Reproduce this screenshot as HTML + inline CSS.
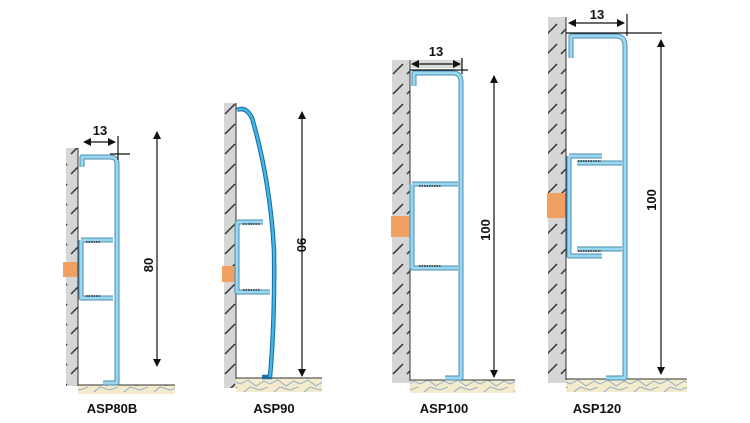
<!DOCTYPE html>
<html><head><style>
body{margin:0;background:#fff}
svg{display:block}
text{font-family:"Liberation Sans",Arial,sans-serif;font-weight:bold;fill:#111}
.o{fill:none;stroke:#4a8db0;stroke-width:5;stroke-linejoin:round}
.i{fill:none;stroke:#9ad8f0;stroke-width:3;stroke-linejoin:round}
.d{stroke:#111;stroke-width:1.2;fill:none}
.t{stroke:#222;stroke-width:1.6;fill:none;stroke-dasharray:1.5 1}
</style></head><body>
<svg width="750" height="423" viewBox="0 0 750 423">
<defs>
<pattern id="h" width="14" height="20" patternUnits="userSpaceOnUse">
<rect width="14" height="20" fill="#d6d6d6"/>
<line x1="1" y1="14" x2="11" y2="4" stroke="#333" stroke-width="1.5"/>
</pattern>
<pattern id="fl" width="30" height="14" patternUnits="userSpaceOnUse">
<rect width="30" height="14" fill="#f3ebcc"/>
<path d="M0 6 L8 2 L16 8 L24 3 L30 6 M4 14 L10 9 L20 12 L28 9" stroke="#8aa6c8" stroke-width="0.9" fill="none"/>
</pattern>
<marker id="a" markerWidth="8" markerHeight="8" refX="7" refY="4" orient="auto-start-reverse" markerUnits="userSpaceOnUse"><path d="M0 0 L8 4 L0 8 Z" fill="#111"/></marker>
</defs>

<!-- ASP80B -->
<rect x="66" y="148" width="12" height="238" fill="url(#h)"/>
<rect x="63" y="262" width="15" height="15" fill="#f0a060"/>
<rect x="78" y="385" width="97" height="9" fill="url(#fl)"/>
<line x1="78" y1="148" x2="78" y2="386" stroke="#333" stroke-width="1"/>
<line x1="78" y1="385" x2="175" y2="385" stroke="#333" stroke-width="1"/>
<path class="o" d="M82 167 V157 H110 Q117 157 117 164 V383 H103"/>
<path class="o" d="M81 240 H113 M81 240 V298 H113"/>
<path class="i" d="M82 167 V157 H110 Q117 157 117 164 V383 H103"/>
<path class="i" d="M81 240 H113 M81 240 V298 H113"/>
<path class="t" d="M86 242 H100 M86 296 H100"/>
<line class="d" x1="84" y1="142" x2="115" y2="142" marker-start="url(#a)" marker-end="url(#a)"/>
<line class="d" x1="118" y1="136" x2="118" y2="160"/>
<line class="d" x1="110" y1="154" x2="130" y2="154"/>
<text x="100" y="135" font-size="13" text-anchor="middle">13</text>
<line class="d" x1="157" y1="132" x2="157" y2="366" marker-start="url(#a)" marker-end="url(#a)"/>
<text transform="translate(153,265) rotate(-90)" font-size="13" text-anchor="middle">80</text>
<text x="112" y="413" font-size="13" text-anchor="middle">ASP80B</text>

<!-- ASP90 -->
<rect x="224" y="103" width="12" height="285" fill="url(#h)"/>
<rect x="222" y="266" width="14" height="16" fill="#f0a060"/>
<rect x="236" y="378" width="86" height="14" fill="url(#fl)"/>
<line x1="236" y1="103" x2="236" y2="379" stroke="#333" stroke-width="1"/>
<line x1="236" y1="378" x2="322" y2="378" stroke="#333" stroke-width="1"/>
<path d="M237 110 Q246 106 252 118 Q270 180 274 250 Q275 320 270 377 L262 377" fill="none" stroke="#1d6fa0" stroke-width="4.5"/>
<path d="M237 110 Q246 106 252 118 Q270 180 274 250 Q275 320 270 377" fill="none" stroke="#3fb8ec" stroke-width="2.4"/>
<path class="o" d="M237 222 H263 M237 222 V292 H270"/>
<path class="i" d="M237 222 H263 M237 222 V292 H270"/>
<path class="t" d="M243 224 H260 M243 290 H260"/>
<line class="d" x1="302" y1="112" x2="302" y2="376" marker-start="url(#a)" marker-end="url(#a)"/>
<text transform="translate(297,245) rotate(90)" font-size="13" text-anchor="middle">90</text>
<text x="274" y="413" font-size="13" text-anchor="middle">ASP90</text>

<!-- ASP100 -->
<rect x="392" y="60" width="18" height="323" fill="url(#h)"/>
<rect x="391" y="216" width="19" height="21" fill="#f0a060"/>
<rect x="410" y="380" width="105" height="13" fill="url(#fl)"/>
<line x1="410" y1="60" x2="410" y2="381" stroke="#333" stroke-width="1"/>
<line x1="410" y1="380" x2="515" y2="380" stroke="#333" stroke-width="1"/>
<path class="o" d="M414 86 V73 H453 Q461 73 461 82 V378 H445"/>
<path class="o" d="M412 184 H458 M412 184 V268 H458"/>
<path class="i" d="M414 86 V73 H453 Q461 73 461 82 V378 H445"/>
<path class="i" d="M412 184 H458 M412 184 V268 H458"/>
<path class="t" d="M419 186 H441 M419 266 H441"/>
<rect x="411" y="60" width="51" height="8" fill="#d9d9d9"/>
<line class="d" x1="412" y1="64" x2="460" y2="64" marker-start="url(#a)" marker-end="url(#a)"/>
<line class="d" x1="462" y1="58" x2="462" y2="74"/>
<line class="d" x1="410" y1="70" x2="468" y2="70"/>
<text x="436" y="56" font-size="13" text-anchor="middle">13</text>
<line class="d" x1="494" y1="76" x2="494" y2="377" marker-start="url(#a)" marker-end="url(#a)"/>
<text transform="translate(490,230) rotate(-90)" font-size="13" text-anchor="middle">100</text>
<text x="444" y="413" font-size="13" text-anchor="middle">ASP100</text>

<!-- ASP120 -->
<rect x="548" y="17" width="18" height="366" fill="url(#h)"/>
<rect x="547" y="193" width="19" height="25" fill="#f0a060"/>
<rect x="566" y="379" width="121" height="13" fill="url(#fl)"/>
<line x1="566" y1="17" x2="566" y2="380" stroke="#333" stroke-width="1"/>
<line x1="566" y1="379" x2="687" y2="379" stroke="#333" stroke-width="1"/>
<path class="o" d="M571 58 V36 H616 Q625 36 625 46 V378 H606"/>
<path class="o" d="M569 156 H602 M569 156 V256 H602 M577 163 H622 M577 249 H622"/>
<path class="i" d="M571 58 V36 H616 Q625 36 625 46 V378 H606"/>
<path class="i" d="M569 156 H602 M569 156 V256 H602 M577 163 H622 M577 249 H622"/>
<path class="t" d="M578 161 H601 M578 251 H601"/>
<line class="d" x1="569" y1="23" x2="624" y2="23" marker-start="url(#a)" marker-end="url(#a)"/>
<line class="d" x1="627" y1="14" x2="627" y2="36"/>
<line class="d" x1="566" y1="33" x2="662" y2="33"/>
<text x="597" y="19" font-size="13" text-anchor="middle">13</text>
<line class="d" x1="661" y1="40" x2="661" y2="374" marker-start="url(#a)" marker-end="url(#a)"/>
<text transform="translate(656,200) rotate(-90)" font-size="13" text-anchor="middle">100</text>
<text x="597" y="413" font-size="13" text-anchor="middle">ASP120</text>
</svg>
</body></html>
